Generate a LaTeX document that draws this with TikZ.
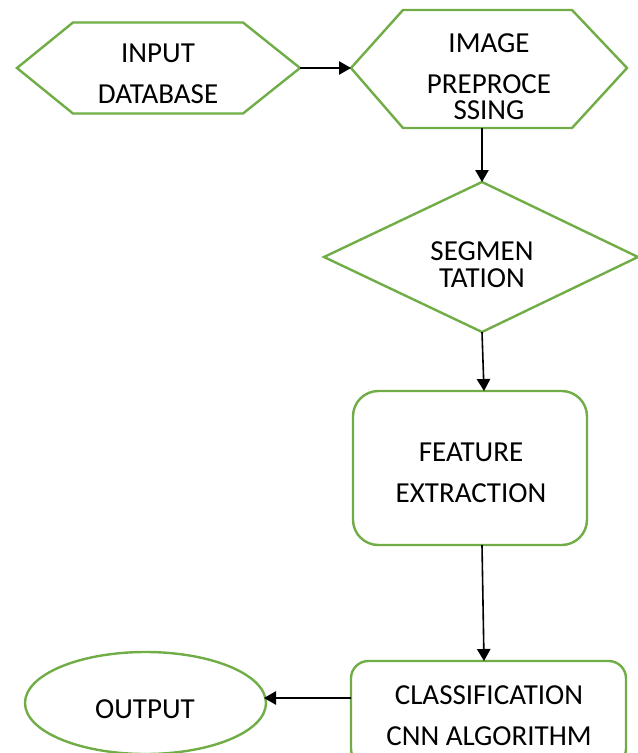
\documentclass[tikz,border=0pt]{standalone}
\usepackage{fontspec}
\setmainfont{Carlito}
\usetikzlibrary{arrows.meta}

\definecolor{shapegreen}{RGB}{112,173,71}
\tikzset{every picture/.style={line width=0.75pt}}
\tikzset{
  greenline/.style={draw=shapegreen, line width=1.8pt, line join=miter},
  flowarrow/.style={draw=black, line width=1.2pt, -{Triangle[width=10pt,length=9pt]}},
  lbl/.style={align=center, inner sep=0.75pt, font=\fontsize{21.75}{30.75}\selectfont}
}

\begin{document}
\begin{tikzpicture}[x=0.75pt,y=0.75pt,yscale=-1,xscale=1]
\clip (0,0) rectangle (638,753); %set diagram size 638 x 753

%Shape: Hexagon
\draw [greenline] (17,68) coordinate (inW) -- (73,22.5) -- (243,22.5) -- (300,68) coordinate (inE) -- (243,113.5) -- (73,113.5) -- cycle ;
%Shape: Hexagon
\draw [greenline] (351,68) coordinate (prepW) -- (403,10) -- (572,10) -- (627,68) coordinate (prepE) -- (572,128) coordinate (prepS) -- (403,128) -- cycle ;
\coordinate (prepB) at (482,128) ;
%Shape: Diamond
\draw [greenline] (482,182) coordinate (segN) -- (638,257) coordinate (segE) -- (482,332) coordinate (segS) -- (324,257) coordinate (segW) -- cycle ;
%Rounded Rect
\draw [greenline, rounded corners=19pt] (353,391) rectangle (587,545) ;
\coordinate (featN) at (484,391) ;
\coordinate (featS) at (482,545) ;
%Rounded Rect
\draw [greenline, rounded corners=13pt] (351,661) rectangle (626,766) ;
\coordinate (clsN) at (484,661) ;
\coordinate (clsW) at (351,698) ;
%Shape: Ellipse
\draw [greenline] (145.5,703) ellipse (120.5 and 51) ;
\coordinate (outE) at (264,698) ;

% Text Node
\node [lbl] (input) at (158,74) {INPUT\\DATABASE};
% Text Node
\node [lbl] (prep) at (489,77) {IMAGE\\PREPROCE\\[-11pt]SSING};
% Text Node
\node [lbl] (seg) at (482,265) {SEGMEN\\[-10.5pt]TATION};
% Text Node
\node [lbl] (feat) at (471,473) {FEATURE\\EXTRACTION};
% Text Node
\node [lbl] (cls) at (489,716) {CLASSIFICATION\\CNN ALGORITHM};
% Text Node
\node [lbl] (out) at (145,709) {OUTPUT};

%Straight Lines
\draw [flowarrow] (inE) -- (prepW) ;
\draw [flowarrow] (prepB) -- (segN) ;
\draw [flowarrow] (segS) -- (featN) ;
\draw [flowarrow] (featS) -- (clsN) ;
\draw [flowarrow] (clsW) -- (outE) ;

\end{tikzpicture}
\end{document}
